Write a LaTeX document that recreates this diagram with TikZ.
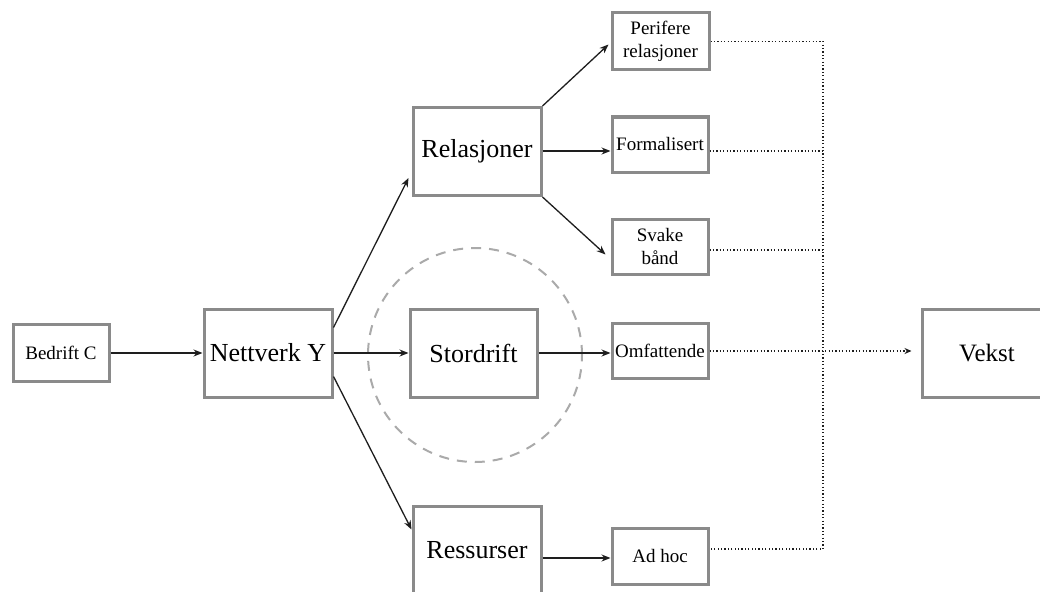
\documentclass[tikz,border=0pt]{standalone}
\usepackage{fontspec}
\setmainfont{Liberation Serif}
\usetikzlibrary{arrows.meta,calc}

\definecolor{boxgray}{RGB}{138,138,138}
\definecolor{ringgray}{RGB}{170,170,170}
\definecolor{inkdark}{RGB}{30,30,30}

\tikzset{
  bigbox/.style={draw=boxgray, line width=3pt, fill=white, inner sep=0pt,
    minimum width=128pt, minimum height=88pt,
    font=\fontsize{26}{30}\selectfont},
  smallbox/.style={draw=boxgray, line width=3pt, fill=white, inner sep=0pt,
    minimum width=96pt, minimum height=56pt, align=center,
    font=\fontsize{19}{23}\selectfont},
  flow/.style={draw=inkdark, line width=1.3pt,
    -{Stealth[length=9pt,width=7pt]}},
  link/.style={draw=inkdark, line width=1.2pt, dash pattern=on 1.2pt off 2.2pt},
  ring/.style={draw=ringgray, line width=2pt, dash pattern=on 10pt off 8pt}
}

\begin{document}
\begin{tikzpicture}[x=1pt, y=-1pt]
  \useasboundingbox (0,0) rectangle (1040,591);
  \clip (0,0) rectangle (1040,591);
  \fill[white] (0,0) rectangle (1040,591);

  % dashed ring around the economies-of-scale branch
  \draw[ring] (475,355) circle[radius=107pt];

  % main boxes
  \node[smallbox, minimum width=96pt, minimum height=57pt] (bed) at (61,353) {Bedrift C};
  \node[bigbox] (net) at (268,353) {Nettverk Y};
  \node[bigbox] (rel) at (477,151.5) {\raisebox{4pt}{Relasjoner}};
  \node[bigbox, minimum width=127pt] (sto) at (473.5,353) {Stordrift};
  \node[bigbox] (res) at (477,550) {Ressurser};

  % outcome boxes
  \node[smallbox, minimum width=97pt, minimum height=57pt] (per) at (660.5,41.5) {Perifere\\relasjoner};
  \node[smallbox, minimum height=55pt] (frm) at (660,144.5) {Formalisert};
  \node[smallbox, minimum height=55pt] (svk) at (660,246.5) {Svake\\bånd};
  \node[smallbox, minimum height=55pt] (omf) at (660,351) {Omfattende};
  \node[smallbox] (adh) at (660,556) {\raisebox{-4pt}{Ad hoc}};
  \node[bigbox, minimum width=130pt, font=\fontsize{25}{30}\selectfont] (vek) at (987,353) {Vekst};

  % solid connectors
  \draw[flow] (bed.east) -- (bed.east -| net.west);
  \draw[flow] ($(net.north east)+(0,20)$) -- ($(rel.south west)+(-3,-19)$);
  \draw[flow] (net.east) -- (net.east -| sto.west);
  \draw[flow] ($(net.south east)+(0,-22)$) -- ($(res.north west)+(0,25)$);
  \draw[flow] (rel.north east) -- ($(per.west)+(-2,3)$);
  \draw[flow] (rel.east |- frm) ++(0,6.5) -- ($(frm.west)+(0,6.5)$);
  \draw[flow] (rel.south east) -- ($(svk.west)+(-5,8)$);
  \draw[flow] (sto.east) -- (sto.east -| omf.west);
  \draw[flow] (res.east |- adh) ++(0,2) -- ($(adh.west)+(0,2)$);

  % dotted collector line
  \coordinate (bus) at (823,0);
  \coordinate (busTop) at (bus |- per.east);
  \coordinate (busBot) at ($(bus |- adh.east)+(0,-7)$);
  \draw[link] (per.east) -- (busTop) -- (busBot) -- ($(adh.east)+(0,-7)$);
  \draw[link] ($(frm.east)+(0,6.5)$) -- ($(bus |- frm.east)+(0,6.5)$);
  \draw[link] ($(svk.east)+(0,3.5)$) -- ($(bus |- svk.east)+(0,3.5)$);
  \draw[link, -{Stealth[length=7pt,width=6pt]}] (omf.east) -- ($(omf.east -| vek.west)+(-9,0)$);
\end{tikzpicture}
\end{document}
